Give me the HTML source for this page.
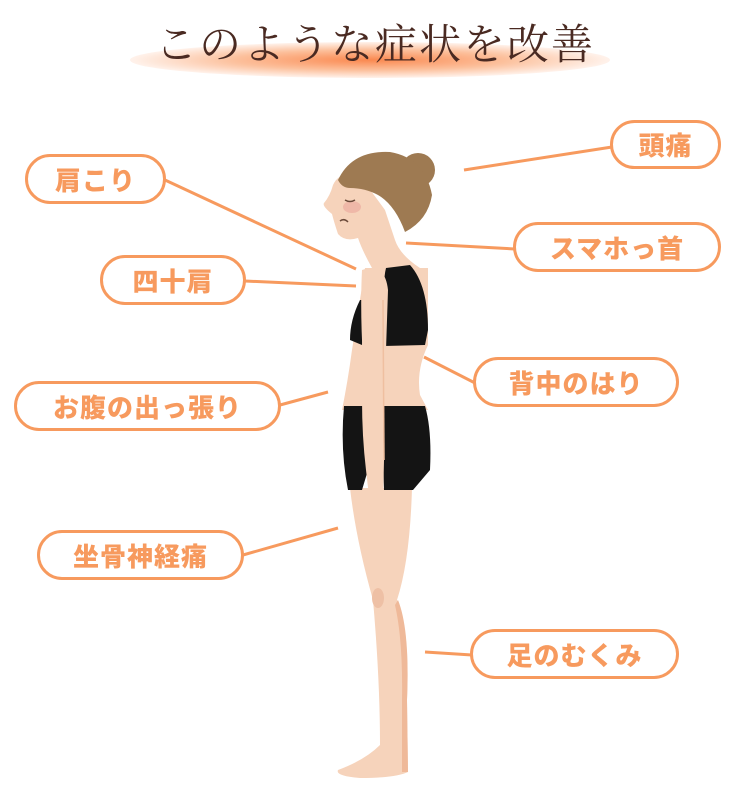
<!DOCTYPE html>
<html><head><meta charset="utf-8"><style>
html,body{margin:0;padding:0;background:#fff;}
#c{position:relative;width:750px;height:800px;overflow:hidden;font-family:"Liberation Sans","Noto Sans CJK JP",sans-serif;}
.p{position:absolute;box-sizing:border-box;border:3px solid #f79a5e;border-radius:26px;background:#fff;color:#f79a5e;font-weight:900;font-size:26px;display:flex;align-items:center;justify-content:center;letter-spacing:1px;}
.t{position:absolute;left:0;width:750px;top:12px;text-align:center;font-family:"Liberation Serif","Noto Serif CJK SC",serif;font-size:42px;color:#4a2a22;letter-spacing:2px;}
.g{position:absolute;left:130px;top:42px;width:480px;height:36px;border-radius:50%;background:radial-gradient(ellipse at center,rgba(250,130,70,.95) 0%,rgba(250,150,90,.6) 40%,rgba(255,200,170,.25) 70%,rgba(255,255,255,0) 100%);}
</style></head><body><div id="c">
<div class="g"></div>
<div class="t">このような症状を改善</div>
<svg width="750" height="800" style="position:absolute;left:0;top:0">
<g stroke="#f79a5e" stroke-width="3" fill="none">
<line x1="165" y1="180" x2="356" y2="269"/>
<line x1="245" y1="281" x2="356" y2="286"/>
<line x1="280" y1="405" x2="328" y2="392"/>
<line x1="243" y1="555" x2="338" y2="528"/>
<line x1="612" y1="147" x2="464" y2="170"/>
<line x1="515" y1="249" x2="406" y2="243"/>
<line x1="475" y1="383" x2="424" y2="357"/>
<line x1="472" y1="655" x2="425" y2="652"/>
</g>
<g fill="#f6d3bb">
<path d="M333,185 Q340,170 360,176 L385,210 L395,240 Q400,255 420,268 L395,275 L372,268 Q362,250 358,238 Q345,242 338,234 Q334,222 332,214 Q322,206 324,203 Q330,196 333,185Z"/>
<path d="M365,268 L428,268 L428,345 Q416,370 420,395 L428,410 L342,410 Q348,380 352,350 Z"/>
<path d="M350,488 L412,488 Q410,560 397,600 Q410,630 407,700 L408,772 Q395,778 360,778 Q335,776 338,770 Q365,760 380,745 Q380,680 373,600 Q356,540 350,488Z"/>
</g>
<path d="M398,600 Q410,630 407,700 L408,772 L402,772 L402,700 Q403,640 395,605Z" fill="#efb999"/>
<ellipse cx="378" cy="598" rx="6" ry="10" fill="#eec0a5"/>
<ellipse cx="352" cy="207" rx="9" ry="6" fill="#efb8a8"/>
<g fill="#9e7a52">
<circle cx="418" cy="170" r="17"/>
<path d="M338,180 Q352,150 390,152 Q425,158 432,195 Q428,220 405,232 Q395,205 378,195 Q365,188 350,188 Q342,188 338,180Z"/>
</g>
<path d="M345,200 q5,3 10,0" stroke="#6b4a3a" stroke-width="1.5" fill="none"/>
<path d="M340,221 q4,-3 8,1" stroke="#6b4a3a" stroke-width="1.5" fill="none"/>
<path d="M386,268 L410,265 Q428,285 428,330 L425,345 L384,346 L385,300 Q383,280 386,268Z M360,300 Q350,320 350,340 L362,345 L364,300Z" fill="#141414"/>
<path d="M344,406 L425,406 Q432,430 430,470 L413,490 L384,490 L383,455 Q378,420 372,420 Q366,430 368,470 L362,490 L348,490 Q340,450 344,406Z" fill="#141414"/>
<path d="M362,270 Q385,262 388,290 L386,350 Q382,420 384,460 L383,505 Q378,515 370,505 L366,470 Q360,420 363,360 Q360,310 362,270Z" fill="#f6d3bb"/>
<path d="M383,300 L384,460" stroke="#efbfa0" stroke-width="1.5"/>
</svg>
<div class="p" style="left:25px;top:154px;width:141px;height:50px">肩こり</div>
<div class="p" style="left:100px;top:255px;width:146px;height:50px">四十肩</div>
<div class="p" style="left:14px;top:381px;width:267px;height:50px">お腹の出っ張り</div>
<div class="p" style="left:37px;top:530px;width:207px;height:50px">坐骨神経痛</div>
<div class="p" style="left:610px;top:120px;width:111px;height:49px">頭痛</div>
<div class="p" style="left:513px;top:222px;width:208px;height:50px">スマホっ首</div>
<div class="p" style="left:473px;top:357px;width:206px;height:50px">背中のはり</div>
<div class="p" style="left:470px;top:629px;width:209px;height:50px">足のむくみ</div>
</div></body></html>
